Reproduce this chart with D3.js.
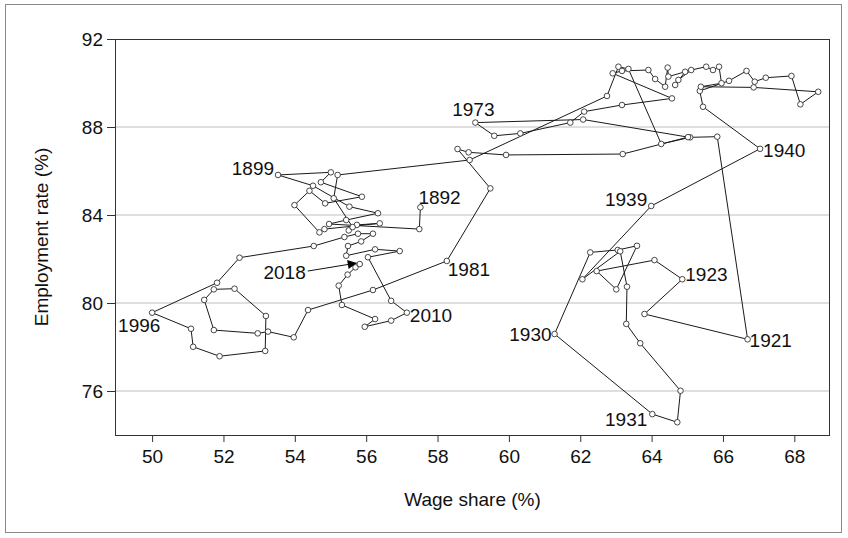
<!DOCTYPE html>
<html><head><meta charset="utf-8">
<script src="https://cdn.jsdelivr.net/npm/d3@7"></script>
<style>
body{margin:0;background:#fff}
text{font-family:"Liberation Sans",Arial,sans-serif;fill:#111}
</style>
</head><body>
<svg id="c" width="848" height="538"></svg>
<script>
const years = [1892,1893,1894,1895,1896,1897,1898,1899,1900,1901,1902,1903,1904,1905,1906,1907,1908,1909,1910,1911,1912,1913,
1914,1915,1916,1917,1918,1919,1920,1921,1922,1923,1924,1925,1926,1927,1928,1929,1930,1931,1932,1933,1934,1935,1936,1937,1938,1939,
1940,1941,1942,1943,1944,1945,1946,1947,1948,1949,1950,1951,1952,1953,1954,1955,1956,1957,1958,1959,1960,1961,1962,1963,1964,1965,
1966,1967,1968,1969,1970,1971,1972,1973,1974,1975,1976,1977,1978,1979,1980,1981,1982,1983,1984,1985,1986,1987,1988,1989,1990,1991,
1992,1993,1994,1995,1996,1997,1998,1999,2000,2001,2002,2003,2004,2005,2006,2007,2008,2009,2010,2011,2012,2013,2014,2015,2016,2017,2018];

const wageShare = [57.52,57.49,54.96,55.44,56.33,55.53,54.51,53.53,55.01,54.73,55.88,54.85,54.41,53.99,54.69,54.83,56.38,55.74,55.51,55.62,55.09,55.20,
58.90,62.75,63.07,63.35,64.27,65.08,65.84,66.69,63.80,64.86,64.08,62.46,63.01,63.59,63.05,62.28,61.28,64.02,64.72,64.81,63.68,63.29,63.31,63.12,62.06,63.99,
67.04,65.44,65.35,66.17,66.66,66.89,67.20,67.92,68.17,68.67,66.86,65.38,65.96,65.89,65.72,65.53,65.11,64.75,64.66,64.94,64.47,64.45,64.38,64.10,63.91,63.17,
62.91,64.57,63.17,62.11,61.72,60.32,59.59,59.06,62.08,65.02,63.19,59.92,58.87,58.56,59.48,58.26,56.19,54.37,53.97,53.25,52.96,51.73,51.46,51.73,52.31,53.19,
53.17,51.89,51.15,51.09,50.00,51.82,52.45,54.53,55.39,55.77,56.19,55.86,55.49,55.44,56.25,56.94,56.05,56.70,57.14,56.70,55.96,56.25,55.32,55.23,55.48,55.70,55.82];

const employmentRate = [84.35,83.36,83.59,83.77,84.08,84.38,85.33,85.82,85.94,85.49,84.83,84.53,85.10,84.45,83.21,83.36,83.62,83.55,83.30,83.45,84.76,85.82,
86.50,89.41,90.74,90.64,87.23,87.53,87.56,78.35,79.50,81.08,81.95,81.45,80.62,82.60,82.41,82.30,78.59,74.95,74.58,76.01,78.17,79.05,80.74,82.35,81.08,84.41,
87.01,88.92,89.64,90.10,90.55,90.06,90.24,90.32,89.03,89.60,89.80,89.83,89.99,90.74,90.59,90.74,90.59,90.14,89.91,90.51,90.29,90.70,89.83,90.18,90.59,90.55,
90.44,89.30,89.00,88.70,88.20,87.71,87.60,88.20,88.34,87.54,86.77,86.73,86.85,87.00,85.21,81.91,80.59,79.68,78.44,78.70,78.62,78.77,80.14,80.62,80.65,79.41,
77.82,77.58,78.01,78.83,79.56,80.92,82.06,82.59,83.00,83.15,83.15,82.80,82.59,82.15,82.44,82.36,82.08,80.10,79.56,79.20,78.92,79.27,79.91,80.79,81.29,81.62,81.77];

const xTicks = [50,52,54,56,58,60,62,64,66,68];
const yTicks = [76,80,84,88,92];
const gridValues = [76,80,84,88];

// labelled years: [year, anchor, dx, dy]
const labelYears = [1892,1899,1921,1923,1930,1931,1939,1940,1973,1981,1996,2010];
const labelAnchor = ["start","end","start","start","end","end","end","start","middle","start","start","start"];
const labelDx = [-2,-4,2,3,-3,-5,-4,3,-2,1,-34,3];
const labelDy = [-3,0,8,2,7,12,0,8,-7,15,19,9];
const arrowYear = 2018;

const svg = d3.select("#c");
const W = 848, H = 538;
const m = {l:115, r:830, t:39, b:435};

// outer frame
svg.append("rect").attr("x",5.5).attr("y",4.5).attr("width",836).attr("height",528)
  .attr("fill","none").attr("stroke","#8a8a8a").attr("stroke-width",1);

const x = d3.scaleLinear().domain([48.96,69]).range([m.l,m.r]);
const y = d3.scaleLinear().domain([74,92]).range([m.b,m.t]);

// grid
svg.append("g").selectAll("line").data(gridValues).join("line")
  .attr("x1",m.l).attr("x2",m.r).attr("y1",d=>y(d)).attr("y2",d=>y(d))
  .attr("stroke","#d4d4d4").attr("stroke-width",1.5);

// plot frame
svg.append("rect").attr("x",m.l+0.5).attr("y",m.t+0.5).attr("width",m.r-m.l-1).attr("height",m.b-m.t)
  .attr("fill","none").attr("stroke","#333").attr("stroke-width",1);

const fs = 19;
const ax = svg.append("g").attr("transform",`translate(0,${m.b})`)
  .call(d3.axisBottom(x).tickValues(xTicks).tickFormat(d3.format("d")).tickSize(7).tickPadding(8));
const ay = svg.append("g").attr("transform",`translate(${m.l},0)`)
  .call(d3.axisLeft(y).tickValues(yTicks).tickFormat(d3.format("d")).tickSize(8).tickPadding(4));
[ax,ay].forEach(a=>{
  a.select(".domain").remove();
  a.selectAll("line").attr("stroke","#333");
  a.selectAll("text").style("font-size",fs+"px").attr("fill","#111");
});

// axis titles
svg.append("text").attr("x",(m.l+m.r)/2).attr("y",506).attr("text-anchor","middle")
  .style("font-size",fs+"px").text("Wage share (%)");
svg.append("text").attr("transform",`translate(48,${(m.t+m.b)/2}) rotate(-90)`).attr("text-anchor","middle")
  .style("font-size",fs+"px").text("Employment rate (%)");

const pts = years.map((yr,i)=>({year:yr, w:wageShare[i], e:employmentRate[i]}));

const line = d3.line().x(d=>x(d.w)).y(d=>y(d.e));
svg.append("path").datum(pts).attr("d",line).attr("fill","none")
  .attr("stroke","#1a1a1a").attr("stroke-width",1);

svg.append("g").selectAll("circle").data(pts).join("circle")
  .attr("cx",d=>x(d.w)).attr("cy",d=>y(d.e)).attr("r",2.8)
  .attr("fill","#fff").attr("stroke","#333").attr("stroke-width",0.9);

// year labels
labelYears.forEach((yr,i)=>{
  const p = pts.find(d=>d.year===yr);
  svg.append("text").attr("x",x(p.w)+labelDx[i]).attr("y",y(p.e)+labelDy[i])
    .attr("text-anchor",labelAnchor[i]).style("font-size",fs+"px").text(yr);
});

// 2018 arrow label
svg.append("defs").append("marker").attr("id","ah").attr("viewBox","0 0 10 10")
  .attr("refX",10).attr("refY",5).attr("markerWidth",11).attr("markerHeight",9)
  .attr("markerUnits","userSpaceOnUse").attr("orient","auto")
  .append("path").attr("d","M0,0L10,5L0,10Z").attr("fill","#000");
const pa = pts.find(d=>d.year===arrowYear);
const px = x(pa.w), py = y(pa.e);
svg.append("line").attr("x1",px-52).attr("y1",py+7).attr("x2",px-3).attr("y2",py-1)
  .attr("stroke","#111").attr("stroke-width",1).attr("marker-end","url(#ah)");
svg.append("text").attr("x",px-54).attr("y",py+15).attr("text-anchor","end")
  .style("font-size",fs+"px").text(arrowYear);
</script>
</body></html>
